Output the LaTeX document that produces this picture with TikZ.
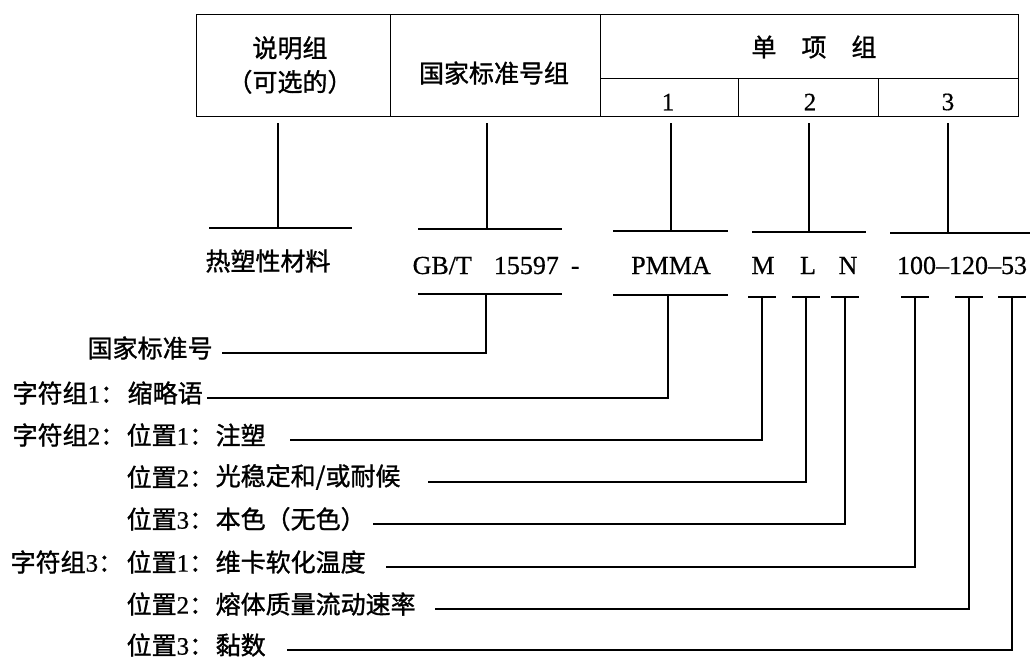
\documentclass[tikz,border=0pt]{standalone}
\usepackage{fontspec}
\setmainfont[FakeBold=0.6]{Liberation Serif}
\newfontfamily\cjk[FakeBold=1.2]{Noto Sans CJK SC}
\usetikzlibrary{calc}
\newcommand\numr[1]{{\rmfamily #1}}
\begin{document}
\begin{tikzpicture}[x=1pt,y=-1pt,line width=1.3pt,
  cellbox/.style={draw,anchor=north west,inner sep=0pt},
  zh/.style={inner sep=0pt,font=\cjk\fontsize{25}{34}\selectfont},
  lat/.style={inner sep=0pt,font=\fontsize{26}{30}\selectfont},
  tabnum/.style={inner sep=0pt,font=\fontsize{25}{30}\selectfont},
  lab/.style={zh,anchor=west}]
\useasboundingbox (0,0) rectangle (1032,659);

% ---------- table ----------
\node[cellbox,minimum width=194pt,minimum height=102pt] (c1) at (196,14) {};
\node[cellbox,minimum width=210pt,minimum height=102pt] (c2) at (390,14) {};
\node[cellbox,minimum width=418pt,minimum height=64pt] (hd) at (600,14) {};
\node[cellbox,minimum width=138pt,minimum height=38pt] (s1) at (600,78) {};
\node[cellbox,minimum width=140pt,minimum height=38pt] (s2) at (738,78) {};
\node[cellbox,minimum width=140pt,minimum height=38pt] (s3) at (878,78) {};

\node[zh,align=center] (tc1) at (290,65) {说明组\\（可选的）};
\node[zh] (tc2) at (494,73) {国家标准号组};
\node[zh] (tc3) at (814,47) {单\hspace{1em}项\hspace{1em}组};
\node[tabnum] (n1) at (668,102) {1};
\node[tabnum] (n2) at (810,102) {2};
\node[tabnum] (n3) at (948,102) {3};

% ---------- middle row ----------
\node[zh] (w0) at (268,261) {热塑性材料};
\node[lat,anchor=base west] (w1) at (412,274) {GB/T\hspace{22pt}15597\hspace{12pt}-};
\node[lat,anchor=base] (w2) at (671,274) {PMMA};
\node[lat,anchor=base] (w3) at (763,274) {M};
\node[lat,anchor=base] (w4) at (808,274) {L};
\node[lat,anchor=base] (w5) at (848,274) {N};
\node[lat,anchor=base] (w6) at (962,274) {100--120--53};

% upper bars
\coordinate (u1) at (278,228); \coordinate (u1l) at (209,228); \coordinate (u1r) at (352,228);
\coordinate (u2) at (487,229); \coordinate (u2l) at (418,229); \coordinate (u2r) at (562,229);
\coordinate (u3) at (671,231); \coordinate (u3l) at (613,231); \coordinate (u3r) at (728,231);
\coordinate (u4) at (809,232); \coordinate (u4l) at (752,232); \coordinate (u4r) at (866,232);
\coordinate (u5) at (948,233); \coordinate (u5l) at (890,233); \coordinate (u5r) at (1030,233);
\foreach \i in {1,...,5} {\draw (u\i l) -- (u\i r);}
\draw ($(c1.south -| u1)+(0,6)$) -- (u1);
\draw ($(c2.south -| u2)+(0,6)$) -- (u2);
\draw ($(s1.south -| u3)+(0,6)$) -- (u3);
\draw ($(s2.south -| u4)+(0,6)$) -- (u4);
\draw ($(s3.south -| u5)+(0,6)$) -- (u5);

% lower bars
\coordinate (dg) at (486,294); \coordinate (dgl) at (418,294); \coordinate (dgr) at (562,294);
\coordinate (dp) at (668,295); \coordinate (dpl) at (613,295); \coordinate (dpr) at (728,295);
\draw (dgl) -- (dgr);
\draw (dpl) -- (dpr);
\foreach \n/\x in {m/762,l/806,n/845,a/915,b/969,c/1012} {
  \coordinate (d\n) at (\x,297);
  \draw ($(d\n)+(-14,0)$) -- ($(d\n)+(14,0)$);
}

% ---------- labels ----------
\node[lab] (a1) at (87,348) {国家标准号};
\node[lab] (g1) at (12,393) {字符组\numr{1}：};
\node[lab] (a2) at (127,393) {缩略语};
\node[lab] (g2) at (12,435) {字符组\numr{2}：};
\node[lab] (p3) at (126,435) {位置\numr{1}：};
\node[lab] (a3) at (215,435) {注塑};
\node[lab] (p4) at (126,477) {位置\numr{2}：};
\node[lab] (a4) at (215,477) {光稳定和/或耐候};
\node[lab] (p5) at (126,519) {位置\numr{3}：};
\node[lab] (a5) at (215,519) {本色（无色）};
\node[lab] (g3) at (10,562) {字符组\numr{3}：};
\node[lab] (p6) at (126,562) {位置\numr{1}：};
\node[lab] (a6) at (215,562) {维卡软化温度};
\node[lab] (p7) at (126,604) {位置\numr{2}：};
\node[lab] (a7) at (215,604) {熔体质量流动速率};
\node[lab] (p8) at (126,645) {位置\numr{3}：};
\node[lab] (a8) at (215,645) {黏数};

% line starts
\coordinate (r1) at (222,353);
\coordinate (r2) at (207,398);
\coordinate (r3) at (290,440);
\coordinate (r4) at (428,482);
\coordinate (r5) at (373,524);
\coordinate (r6) at (386,567);
\coordinate (r7) at (435,609);
\coordinate (r8) at (287,650);

\draw (r1) -| (dg);
\draw (r2) -| (dp);
\draw (r3) -| (dm);
\draw (r4) -| (dl);
\draw (r5) -| (dn);
\draw (r6) -| (da);
\draw (r7) -| (db);
\draw (r8) -| (dc);
\end{tikzpicture}
\end{document}
